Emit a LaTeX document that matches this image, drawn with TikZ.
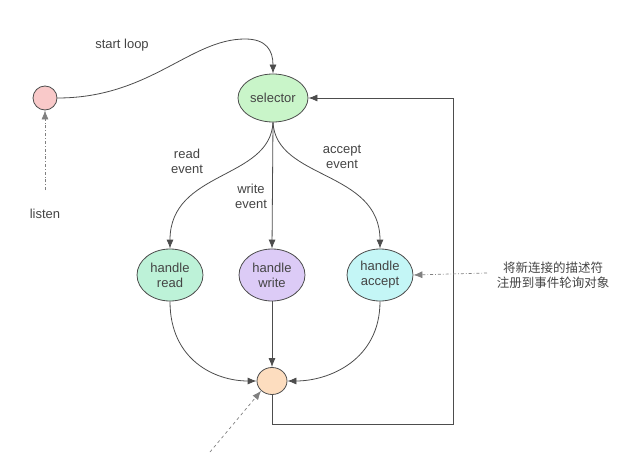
\documentclass[tikz,border=0pt]{standalone}
\usepackage{fontspec}
\setmainfont{Liberation Sans}
\newfontfamily\cjk{Noto Sans CJK SC}
\usetikzlibrary{arrows.meta, shapes.geometric}
\definecolor{linegray}{HTML}{4D4D4D}
\definecolor{textgray}{HTML}{444444}
\definecolor{pinkfill}{HTML}{F9C9C9}
\definecolor{selfill}{HTML}{C9F5C9}
\definecolor{readfill}{HTML}{BDF2D8}
\definecolor{writefill}{HTML}{DCCBF6}
\definecolor{acceptfill}{HTML}{C4F6F6}
\definecolor{endfill}{HTML}{FDDDBF}

\tikzset{
  state/.style={ellipse, draw=linegray, line width=0.8pt, inner sep=0pt, align=center, text=textgray, font=\fontsize{13}{15}\selectfont},
  lbl/.style={align=center, text=textgray, font=\fontsize{13}{15}\selectfont},
  flow/.style={->, draw=linegray, line width=0.8pt},
  hint/.style={->, draw=gray, line width=0.7pt, dash dot}
}

\begin{document}
\begin{tikzpicture}[x=1pt,y=-1pt,>={Latex[length=9pt,width=7pt]}]
            \useasboundingbox (0,0) rectangle (640,460);

            % the states
            \node[state, fill=pinkfill, minimum width=24pt, minimum height=24pt] (start) at (45,98) {};
            \node[state, fill=selfill, minimum width=70pt, minimum height=48pt] (sel) at (273,98) {selector};
            \node[state, fill=readfill, minimum width=66pt, minimum height=52pt] (hread) at (170,275) {handle\\read};
            \node[state, fill=writefill, minimum width=66pt, minimum height=52pt] (hwrite) at (272,275) {handle\\write};
            \node[state, fill=acceptfill, minimum width=66pt, minimum height=52pt] (haccept) at (380,275) {handle\\accept};
            \node[state, fill=endfill, minimum width=30pt, minimum height=27pt] (done) at (272,381) {};

            % free ends
            \coordinate (listenfoot) at (45,190);
            \coordinate (notefoot) at (487,273);
            \coordinate (lowfoot) at (210,452);
            \coordinate (loopcorner) at (453,424);

            %start loop
            \draw[flow] (start.east) .. controls (150,98) and (190,39) .. (245,39)
                .. controls (266,39) and (273,50) .. (sel.north);

            %events
            \draw[flow] (sel.south) .. controls (270,180) and (170,170) .. (hread.north);
            \draw[flow] (sel.south) -- (hwrite.north);
            \draw[flow] (sel.south) .. controls (276,180) and (380,170) .. (haccept.north);

            %back to the end
            \draw[flow] (hread.south) .. controls (170,360) and (215,381) .. (done.west);
            \draw[flow] (hwrite.south) -- (done.north);
            \draw[flow] (haccept.south) .. controls (380,360) and (329,381) .. (done.east);

            %loop
            \draw[flow] (done.south) |- (loopcorner) |- (sel.east);

            %hints
            \draw[hint] (listenfoot) -- (start.south);
            \draw[hint] (notefoot) -- (haccept.east);
            \draw[hint, dashed] (lowfoot) -- (done.south west);

            % text
            \node[lbl] (startlbl) at (122,45) {start loop};
            \node[lbl] (listenlbl) at (45,214) {listen};
            \node[lbl] (readlbl) at (187,161) {read\\event};
            \node[lbl] (writelbl) at (251,196) {write\\event};
            \node[lbl] (acceptlbl) at (342,157) {accept\\event};
            \node[lbl, font=\cjk\fontsize{12.5}{15}\selectfont] (note) at (553,275) {将新连接的描述符\\注册到事件轮询对象};
        \end{tikzpicture}
\end{document}
